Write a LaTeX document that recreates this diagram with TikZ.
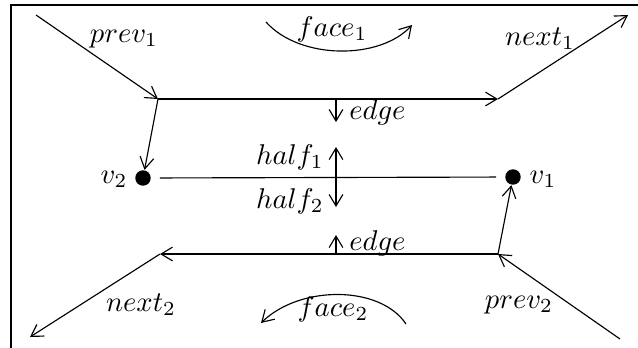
\documentclass[tikz,border=0pt]{standalone}
\usepackage{amsmath}
\usetikzlibrary{calc, positioning, arrows.meta}

\begin{document}
\begin{tikzpicture}[x=0.35pt, y=-0.35pt, >={Straight Barb[length=4pt, width=4.8pt]}]
  \tikzset{
    vertex/.style={circle, fill=black, inner sep=0pt, minimum size=5.4pt},
    frame/.style={line width=0.9pt},
    tag/.style={inner sep=1pt}
  }
  \useasboundingbox (0,0) rectangle (638,347);
  \clip (0,0) rectangle (638,347);
  \draw[frame] (11,5) rectangle (700,400);

  % corners of the two edges
  \coordinate (a1) at (158,99);
  \coordinate (b1) at (498,99);
  \coordinate (a2) at (498,254);
  \coordinate (b2) at (160,254);
  \coordinate (p1) at (36,15);
  \coordinate (n1) at (628,15);
  \coordinate (p2) at (620,339);
  \coordinate (n2) at (30,337);

  \node[vertex] (v2) at (143,178) {};
  \node[vertex] (v1) at (513,177) {};
  \node[tag] (lv2) at (114,179) {$v_2$};
  \node[tag] (lv1) at (543,179) {$v_1$};

  \draw[->] (p1) -- (a1);
  \draw[->] (a1) -- (b1);
  \draw[->] (b1) -- (n1);
  \draw[->] (a1) -- (v2);
  \draw[shorten <=3pt, shorten >=3pt] (v2) -- (v1);
  \draw[->] (p2) -- (a2);
  \draw[->] (a2) -- (b2);
  \draw[->] (b2) -- (n2);
  \draw[->] (a2) -- (v1);

  % labels
  \node[tag] (lp1) at (124,39) {$prev_1$};
  \node[tag] (ln1) at (540,39) {$next_1$};
  \node[tag] (lp2) at (519,305) {$prev_2$};
  \node[tag] (ln2) at (141,305) {$next_2$};
  \node[tag] (lf1) at (332,29) {$face_1$};
  \node[tag] (lf2) at (333,309) {$face_2$};
  \node[tag, anchor=west] (le1) at (346,112) {$edge$};
  \node[tag, anchor=west] (le2) at (346,243) {$edge$};
  \node[tag, anchor=east] (lh1) at (327,157) {$half_1$};
  \node[tag, anchor=east] (lh2) at (327,201) {$half_2$};

  % small direction marks
  \coordinate (m1) at (336,100);
  \coordinate (m2) at (336,122);
  \coordinate (m3) at (336,147);
  \coordinate (m4) at (336,207);
  \coordinate (m5) at (336,254);
  \coordinate (m6) at (336,235);
  \draw[->] (m1) -- (m2);
  \draw[<->] (m3) -- (m4);
  \draw[->] (m5) -- (m6);

  % faces
  \coordinate (f1s) at (266,22);
  \coordinate (f1e) at (412,25);
  \coordinate (f2s) at (406,324);
  \coordinate (f2e) at (261,323);
  \draw[->] (f1s) .. controls (300,60) and (380,60) .. (f1e);
  \draw[->] (f2s) .. controls (380,285) and (300,285) .. (f2e);
\end{tikzpicture}
\end{document}
